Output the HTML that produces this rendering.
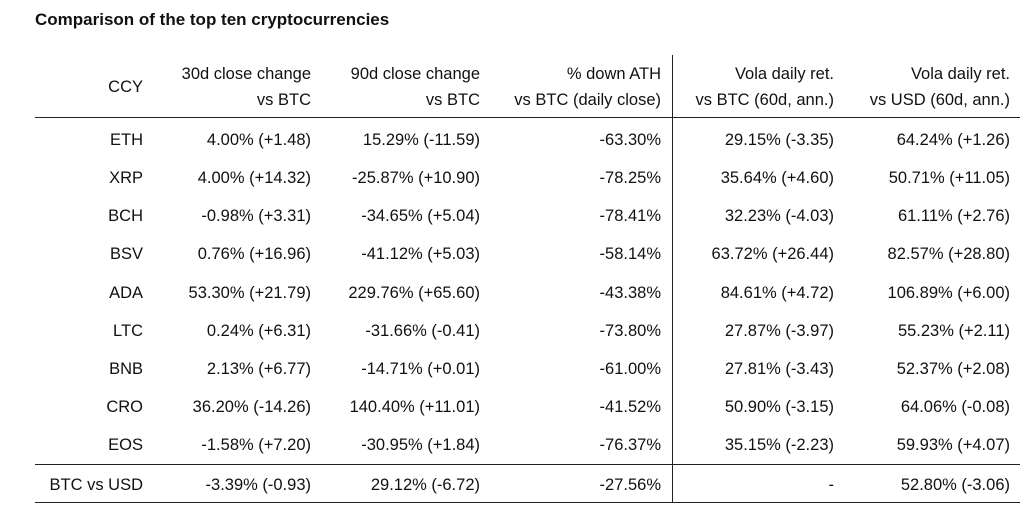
<!DOCTYPE html>
<html><head><meta charset="utf-8"><style>
body{margin:0;width:1035px;height:515px;background:#fff;position:relative;overflow:hidden;font-family:"Liberation Sans",sans-serif;color:#111;}
.t{position:absolute;left:35px;top:10px;font-size:17px;font-weight:bold;}
.c{position:absolute;font-size:16.5px;text-align:right;white-space:nowrap;line-height:20px;}
.h{position:absolute;background:#222;height:1px;left:35px;width:985px;}
.v{position:absolute;background:#222;width:1px;}
</style></head><body>
<div class="t">Comparison of the top ten cryptocurrencies</div>
<div class="h" style="top:117px"></div>
<div class="h" style="top:464px"></div>
<div class="h" style="top:502px"></div>
<div class="v" style="left:672px;top:55px;height:447px"></div>
<script>
var R=[143,311,480,661,834,1010];
function put(x,y,t){var d=document.createElement('div');d.className='c';d.style.right=(1035-x)+'px';d.style.top=(y-8)+'px';d.textContent=t;document.body.appendChild(d);}
put(R[0],85,'CCY');
var h1=['30d close change','90d close change','% down ATH','Vola daily ret.','Vola daily ret.'];
var h2=['vs BTC','vs BTC','vs BTC (daily close)','vs BTC (60d, ann.)','vs USD (60d, ann.)'];
for(var i=0;i<5;i++){put(R[i+1],72,h1[i]);put(R[i+1],98,h2[i]);}
var rows=[
['ETH','4.00% (+1.48)','15.29% (-11.59)','-63.30%','29.15% (-3.35)','64.24% (+1.26)'],
['XRP','4.00% (+14.32)','-25.87% (+10.90)','-78.25%','35.64% (+4.60)','50.71% (+11.05)'],
['BCH','-0.98% (+3.31)','-34.65% (+5.04)','-78.41%','32.23% (-4.03)','61.11% (+2.76)'],
['BSV','0.76% (+16.96)','-41.12% (+5.03)','-58.14%','63.72% (+26.44)','82.57% (+28.80)'],
['ADA','53.30% (+21.79)','229.76% (+65.60)','-43.38%','84.61% (+4.72)','106.89% (+6.00)'],
['LTC','0.24% (+6.31)','-31.66% (-0.41)','-73.80%','27.87% (-3.97)','55.23% (+2.11)'],
['BNB','2.13% (+6.77)','-14.71% (+0.01)','-61.00%','27.81% (-3.43)','52.37% (+2.08)'],
['CRO','36.20% (-14.26)','140.40% (+11.01)','-41.52%','50.90% (-3.15)','64.06% (-0.08)'],
['EOS','-1.58% (+7.20)','-30.95% (+1.84)','-76.37%','35.15% (-2.23)','59.93% (+4.07)'],
['BTC vs USD','-3.39% (-0.93)','29.12% (-6.72)','-27.56%','-','52.80% (-3.06)']];
var ys=[138,176,214,252,291,329,367,405,443,483];
rows.forEach(function(r,j){r.forEach(function(t,i){put(R[i],ys[j],t);});});
</script>
</body></html>
